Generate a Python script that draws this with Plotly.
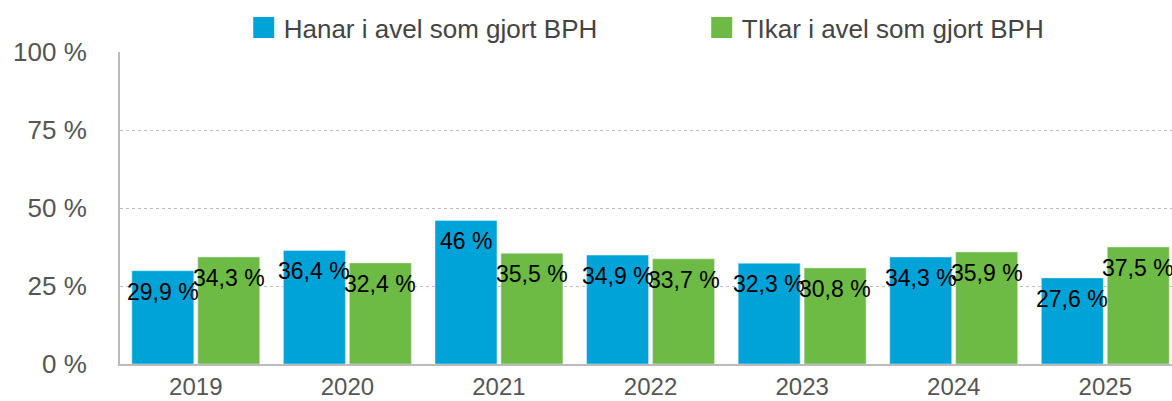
import plotly.graph_objects as go

years = ["2019", "2020", "2021", "2022", "2023", "2024", "2025"]
hanar = [29.9, 36.4, 46, 34.9, 32.3, 34.3, 27.6]
tikar = [34.3, 32.4, 35.5, 33.7, 30.8, 35.9, 37.5]
names = ["Hanar i avel som gjort BPH", "TIkar i avel som gjort BPH"]
colors = ["#00a3d8", "#6dbb45"]

FONT = "Liberation Sans, Arial, Helvetica, sans-serif"


def fmt(v):
    return ("%g" % v).replace(".", ",") + " %"


fig = go.Figure()
for i, (name, vals, col) in enumerate(zip(names, [hanar, tikar], colors)):
    fig.add_trace(go.Bar(x=years, y=vals, name=name, marker_color=col,
                         showlegend=False, legendgroup=name))
    # legend entry with a larger square symbol
    fig.add_trace(go.Scatter(x=[None], y=[None], mode="markers", name=name,
                             legendgroup=name,
                             marker=dict(symbol="square", size=23, color=col,
                                         line=dict(color=col, width=6))))

annotations = []
for vals, shift in [(hanar, -33), (tikar, 33)]:
    for idx, v in enumerate(vals):
        annotations.append(dict(x=idx, y=v, xref="x", yref="y", text=fmt(v),
                                showarrow=False, xshift=shift, yshift=-21,
                                font=dict(family=FONT, size=23, color="black")))

fig.update_layout(
    width=1172, height=401,
    margin=dict(l=120, r=0, t=52, b=37, autoexpand=False),
    plot_bgcolor="white", paper_bgcolor="white",
    barmode="group", bargap=0.13, bargroupgap=0.06,
    font=dict(family=FONT, size=26, color="#555555"),
    annotations=annotations,
    legend=dict(orientation="h", x=0.1176, y=1.003, xanchor="left", yanchor="bottom",
                entrywidth=413, entrywidthmode="pixels", itemsizing="trace",
                font=dict(family=FONT, size=26, color="#444444"),
                bgcolor="rgba(0,0,0,0)"),
    xaxis=dict(type="category", range=[-0.5, 6.44], showline=True,
               linecolor="#bbbbbb", linewidth=2,
               ticks="", tickfont=dict(size=24, color="#555555")),
    yaxis=dict(range=[0, 100], dtick=25, ticksuffix=" %", showgrid=True,
               gridcolor="#bbbbbb", griddash="dot", gridwidth=1,
               showline=True, linecolor="#bbbbbb", linewidth=2, zeroline=False,
               ticklabelstandoff=26, tickfont=dict(size=26, color="#555555")),
)

fig.write_html("out.html", config={"displayModeBar": False},
               post_script="document.body.style.margin='0';document.body.style.overflow='hidden';")
